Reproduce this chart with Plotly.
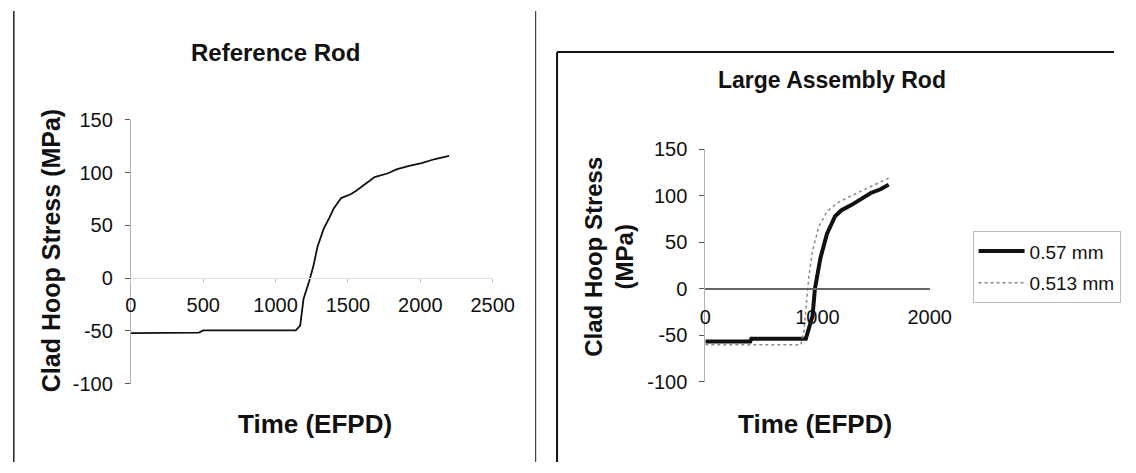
import plotly.graph_objects as go

W, H = 1136, 473

# ---------------- data ----------------
ref_time = [0, 470, 500, 1140, 1170, 1193, 1232, 1262, 1290, 1332, 1371, 1402, 1453,
            1522, 1557, 1615, 1684, 1777, 1835, 1916, 2009, 2102, 2199]
ref_stress = [-52, -51.5, -49.5, -49.5, -45, -19.6, -3, 12, 30, 46.6, 57, 66, 75.8,
              79.7, 82.7, 88.7, 95.7, 99.3, 103, 106, 109, 112.8, 115.8]

t_057 = [0, 400, 410, 896, 956, 977, 1026, 1084, 1157, 1214, 1301, 1388, 1475, 1562, 1635]
s_057 = [-56.7, -56.5, -53.6, -53.6, -29, 0, 33, 59, 78, 84.5, 90, 97, 103, 107, 112]

t_0513 = [0, 400, 410, 852, 878, 922, 954, 1012, 1084, 1186, 1301, 1446, 1635]
s_0513 = [-60, -60, -59.5, -60, -46, 12, 40, 67, 83, 93, 100, 108.5, 119]

y_ticks = [-100, -50, 0, 50, 100, 150]
y_tick_text = ["-100", "-50", "0", "50", "100", "150"]
x_ticks_left = [0, 500, 1000, 1500, 2000, 2500]
x_ticks_right = [0, 1000, 2000]

series_names = ["0.57 mm", "0.513 mm"]

# ---------------- helpers ----------------
def fx(px):
    return px / W

def fy(py):
    return 1 - py / H

REG = "Liberation Sans, Arial"
BOLD = "Liberation Sans, Arial"

fig = go.Figure()

fig.add_trace(go.Scatter(x=ref_time, y=ref_stress, mode="lines",
                         line=dict(color="#111111", width=1.8),
                         showlegend=False, xaxis="x", yaxis="y"))

fig.add_trace(go.Scatter(x=t_057, y=s_057, mode="lines", name=series_names[0],
                         legendgroup="a",
                         line=dict(color="#111111", width=4),
                         xaxis="x2", yaxis="y2"))
fig.add_trace(go.Scatter(x=t_0513, y=s_0513, mode="lines", name=series_names[1],
                         legendgroup="b",
                         line=dict(color="#8a8a8a", width=1.5, dash="dot"),
                         xaxis="x2", yaxis="y2"))

tickfont = dict(family=REG, size=20, color="#111111")

fig.update_layout(
    width=W, height=H,
    margin=dict(l=0, r=0, t=0, b=0, pad=0),
    paper_bgcolor="white", plot_bgcolor="rgba(0,0,0,0)",
    showlegend=True,
    xaxis=dict(domain=[fx(128), fx(499)], range=[0, 2500], anchor="free",
               position=fy(280), tickvals=x_ticks_left, tickfont=tickfont,
               showgrid=False, zeroline=False, showline=True, linecolor="#e2e2e2",
               linewidth=1, ticks="outside", ticklen=4, tickcolor="#c8c8c8",
               ticklabelstandoff=5),
    yaxis=dict(domain=[fy(391), fy(114)], range=[-100, 150], anchor="x",
               tickvals=y_ticks, ticktext=y_tick_text, tickfont=tickfont,
               showgrid=False, zeroline=False,
               showline=True, linecolor="#b0b0b0", linewidth=1, ticks="outside",
               ticklen=5, tickcolor="#555555", ticklabelstandoff=8),
    xaxis2=dict(domain=[fx(717), fx(947)], range=[0, 2000], anchor="free",
                position=fy(292), tickvals=x_ticks_right, tickfont=tickfont,
                showgrid=False, zeroline=False, showline=True, linecolor="#666666",
                linewidth=1.5, ticks="", ticklabelstandoff=10),
    yaxis2=dict(domain=[fy(389), fy(145)], range=[-100, 150], anchor="x2",
                tickvals=y_ticks, ticktext=y_tick_text, tickfont=tickfont,
                showgrid=False, zeroline=False,
                showline=True, linecolor="#b0b0b0", linewidth=1, ticks="outside",
                ticklen=5, tickcolor="#555555", ticklabelstandoff=8),
    legend=dict(x=fx(991), y=fy(231), xanchor="left", yanchor="top",
                bgcolor="white", bordercolor="#bdbdbd", borderwidth=1,
                font=dict(family=REG, size=19, color="#111111"),
                traceorder="grouped", tracegroupgap=4, itemwidth=46),
)

ann = [
    dict(text="<b>Reference Rod</b>", x=fx(276), y=fy(43), size=24),
    dict(text="<b>Large Assembly Rod</b>", x=fx(847), y=fy(72), size=23),
    dict(text="<b>Time (EFPD)</b>", x=fx(317), y=fy(433), size=26),
    dict(text="<b>Time (EFPD)</b>", x=fx(829), y=fy(433), size=26),
]
for a in ann:
    fig.add_annotation(text=a["text"], x=a["x"], y=a["y"], xref="paper", yref="paper",
                       showarrow=False, xanchor="center", yanchor="middle",
                       font=dict(family=BOLD, size=a["size"], color="#111111"))

fig.add_annotation(text="<b>Clad Hoop Stress (MPa)</b>", x=fx(46), y=fy(251),
                   xref="paper", yref="paper", showarrow=False, textangle=-90,
                   xanchor="center", yanchor="middle",
                   font=dict(family=BOLD, size=25, color="#111111"))
fig.add_annotation(text="<b>Clad Hoop Stress<br>(MPa)</b>", x=fx(618), y=fy(258),
                   xref="paper", yref="paper", showarrow=False, textangle=-90,
                   xanchor="center", yanchor="middle",
                   font=dict(family=BOLD, size=24, color="#111111"))

# panel borders (decoration of the scanned page)
shapes = [
    dict(x0=fx(8), x1=fx(8), y0=0, y1=1, color="#222222", width=1.5),
    dict(x0=fx(543), x1=fx(543), y0=0, y1=1, color="#444444", width=1.2),
    dict(x0=fx(565), x1=1, y0=fy(43), y1=fy(43), color="#111111", width=2),
    dict(x0=fx(565), x1=fx(565), y0=0, y1=fy(43), color="#111111", width=2),
]
for s in shapes:
    fig.add_shape(type="line", xref="paper", yref="paper", x0=s["x0"], x1=s["x1"],
                  y0=s["y0"], y1=s["y1"], line=dict(color=s["color"], width=s["width"]))

fig.write_html(
    "out.html",
    config={"displayModeBar": False},
    post_script="document.body.style.margin='0';document.body.style.padding='0';"
                "document.body.style.overflow='hidden';",
)
